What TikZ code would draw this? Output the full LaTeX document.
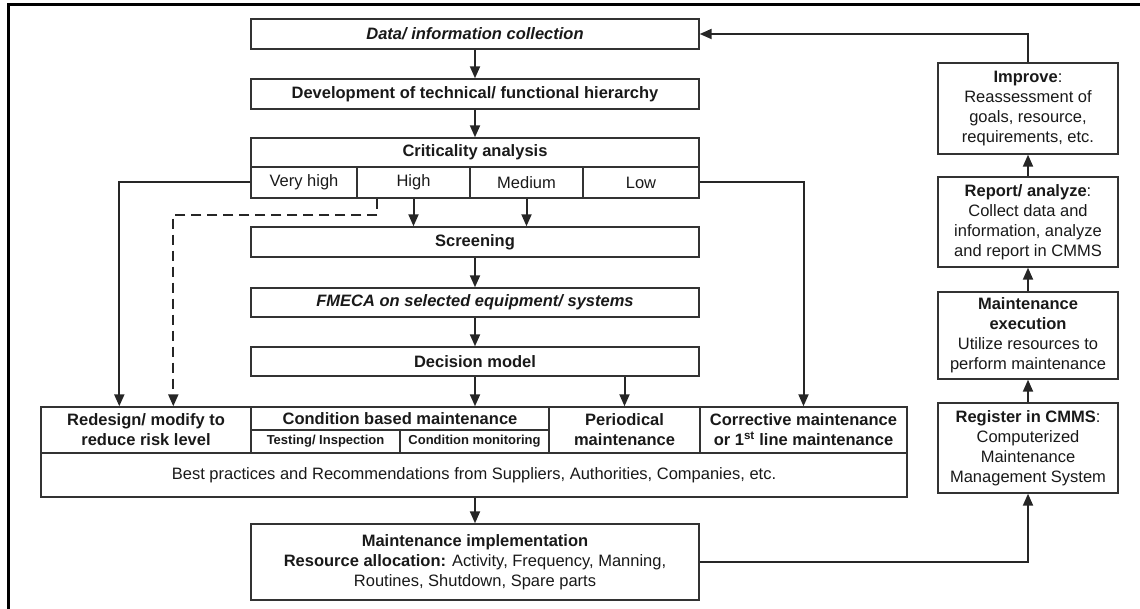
\documentclass[tikz,border=0pt]{standalone}
\usepackage{fontspec}
\setmainfont{Liberation Sans}
\usetikzlibrary{arrows.meta,calc}
\begin{document}
\begin{tikzpicture}[x=1pt,y=-1pt,
  every node/.style={font=\fontsize{16.5}{20}\selectfont, text=black!90},
  box/.style={draw=black!80, line width=1.4pt, rectangle, inner sep=0pt, align=center},
  small/.style={font=\fontsize{13}{15}\selectfont\bfseries},
  arr/.style={draw=black!85, line width=2pt, -{Triangle[length=12pt,width=10pt]}},
  frameline/.style={draw=black, line width=3pt},
]
\useasboundingbox (0,0) rectangle (1140,609);
\draw[frameline] (8,609) -- (8,5) -- (1140,5);

% main column
\node[box, minimum width=448pt, minimum height=30pt] (data) at (475,34)
  {\bfseries\itshape Data/ information collection};
\node[box, minimum width=448pt, minimum height=30pt] (dev) at (475,94)
  {\bfseries Development of technical/ functional hierarchy};
\node[box, minimum width=448pt, minimum height=29pt] (crit) at (475,152.5)
  {\bfseries Criticality analysis};
\node[box, minimum width=106pt, minimum height=31pt] (vh) at (304,182.5) {Very high};
\node[box, minimum width=113pt, minimum height=31pt] (high) at (413.5,182.5) {High};
\node[box, minimum width=113pt, minimum height=31pt] (med) at (526.5,182.5) {Medium};
\node[box, minimum width=116pt, minimum height=31pt] (low) at (641,182.5) {Low};
\node[box, minimum width=448pt, minimum height=30pt] (screen) at (475,242)
  {\bfseries Screening};
\node[box, minimum width=448pt, minimum height=29pt] (fmeca) at (475,302.5)
  {\bfseries\itshape FMECA on selected equipment/ systems};
\node[box, minimum width=448pt, minimum height=29pt] (dec) at (475,361.5)
  {\bfseries Decision model};

% strategy table
\node[box, minimum width=210pt, minimum height=46pt] (redesign) at (146,430)
  {\bfseries Redesign/ modify to\\\bfseries reduce risk level};
\node[box, minimum width=298pt, minimum height=23pt] (cbm) at (400,418.5)
  {\bfseries Condition based maintenance};
\node[box, small, minimum width=149pt, minimum height=23pt] (test) at (325.5,441.5)
  {Testing/ Inspection};
\node[box, small, minimum width=149pt, minimum height=23pt] (cmon) at (474.5,441.5)
  {Condition monitoring};
\node[box, minimum width=151pt, minimum height=46pt] (per) at (624.5,430)
  {\bfseries Periodical\\\bfseries maintenance};
\node[box, minimum width=207pt, minimum height=46pt] (corr) at (803.5,430)
  {\bfseries Corrective maintenance\\\bfseries or 1\textsuperscript{st} line maintenance};
\node[box, minimum width=866pt, minimum height=44pt] (best) at (474,475)
  {Best practices and Recommendations from Suppliers, Authorities, Companies, etc.};

\node[box, minimum width=448pt, minimum height=76pt] (impl) at (475,562)
  {\textbf{Maintenance implementation}\\
   \textbf{Resource allocation:} Activity, Frequency, Manning,\\
   Routines, Shutdown, Spare parts};

% continuous improvement loop
\node[box, minimum width=180pt, minimum height=90pt] (reg) at (1028,448)
  {\textbf{Register in CMMS}:\\Computerized\\Maintenance\\Management System};
\node[box, minimum width=180pt, minimum height=87pt] (exec) at (1028,335.5)
  {\textbf{Maintenance}\\\textbf{execution}\\Utilize resources to\\perform maintenance};
\node[box, minimum width=180pt, minimum height=90pt] (rep) at (1028,222)
  {\textbf{Report/ analyze}:\\Collect data and\\information, analyze\\and report in CMMS};
\node[box, minimum width=180pt, minimum height=91pt] (imp) at (1028,108.5)
  {\textbf{Improve}:\\Reassessment of\\goals, resource,\\requirements, etc.};

% connectors
\draw[arr] (data) -- (dev);
\draw[arr] (dev) -- (crit);
\draw[arr] (high.south) -- (high.south |- screen.north);
\draw[arr] (med.south) -- (med.south |- screen.north);
\draw[arr] (screen) -- (fmeca);
\draw[arr] (fmeca) -- (dec);
\draw[arr] (dec.south) -- (dec.south |- cbm.north);
\draw[arr] (dec.south -| per.north) -- (per.north);
\draw[arr] (vh.west) -| ($(redesign.north west)+(79,0)$);
\draw[arr, dash pattern=on 10pt off 6pt] ($(high.south west)+(21,0)$) -- ++(0,16)
  -| ($(redesign.north west)+(133,0)$);
\draw[arr] (low.east) -| (corr.north);
\draw[arr] (best.south -| impl.north) -- (impl.north);
\draw[arr] (impl.east) -| (reg.south);
\draw[arr] (reg) -- (exec);
\draw[arr] (exec) -- (rep);
\draw[arr] (rep) -- (imp);
\draw[arr] (imp.north) |- (data.east);
\end{tikzpicture}
\end{document}
